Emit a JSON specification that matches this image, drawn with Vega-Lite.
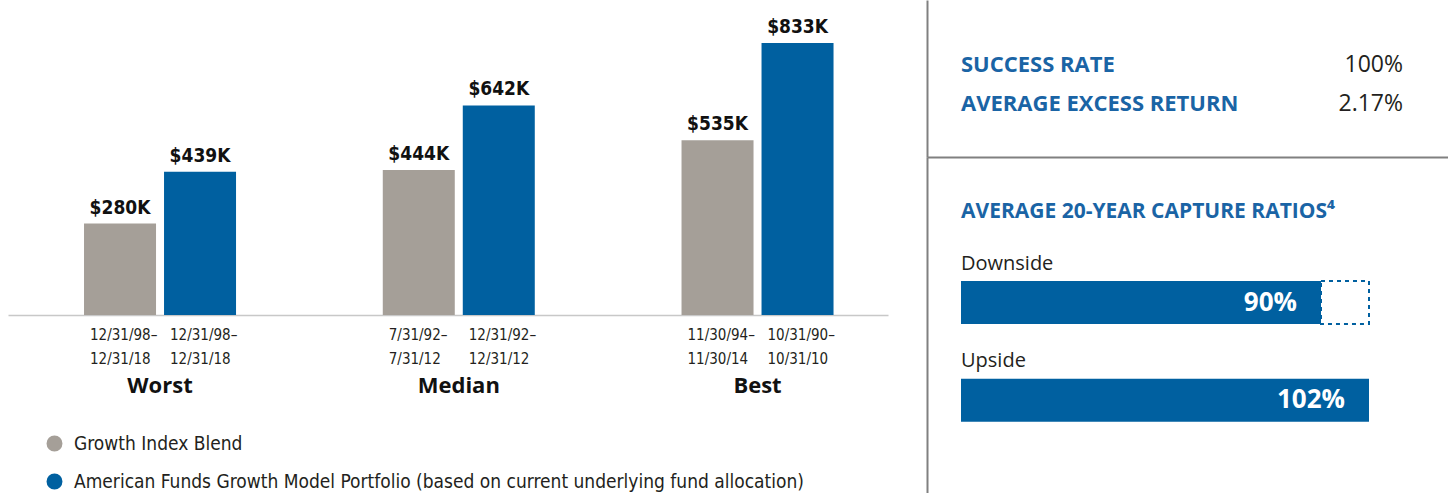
{
  "$schema": "https://vega.github.io/schema/vega-lite/v6.json",
  "background": "white",
  "padding": {"left": 8, "top": 0, "right": 0, "bottom": 0},
  "bounds": "flush",
  "spacing": 39,
  "config": {"view": {"stroke": null}},
  "hconcat": [
    {
      "width": 880,
      "height": 315,
      "data": {"values": [
        {"case": "Worst", "series": "Growth Index Blend", "value": 280, "label": "$280K", "period": "12/31/98–\n12/31/18"},
        {"case": "Worst", "series": "American Funds Growth Model Portfolio (based on current underlying fund allocation)", "value": 439, "label": "$439K", "period": "12/31/98–\n12/31/18"},
        {"case": "Median", "series": "Growth Index Blend", "value": 444, "label": "$444K", "period": "7/31/92–\n7/31/12"},
        {"case": "Median", "series": "American Funds Growth Model Portfolio (based on current underlying fund allocation)", "value": 642, "label": "$642K", "period": "12/31/92–\n12/31/12"},
        {"case": "Best", "series": "Growth Index Blend", "value": 535, "label": "$535K", "period": "11/30/94–\n11/30/14"},
        {"case": "Best", "series": "American Funds Growth Model Portfolio (based on current underlying fund allocation)", "value": 833, "label": "$833K", "period": "10/31/90–\n10/31/10"}
      ]},
      "encoding": {
        "x": {"field": "case", "type": "nominal", "sort": ["Worst", "Median", "Best"],
          "scale": {"paddingInner": 0.4644, "paddingOuter": 0.205, "align": 0.588},
          "axis": {"title": null, "domain": true, "domainColor": "#c8c8c8", "domainWidth": 1.5, "ticks": false, "labelAngle": 0, "labelPadding": 60, "labelFont": "Open Sans", "labelFontSize": 22, "labelFontWeight": "bold", "labelColor": "#111111"}},
        "xOffset": {"field": "series", "type": "nominal", "sort": ["Growth Index Blend", "American Funds Growth Model Portfolio (based on current underlying fund allocation)"],
          "scale": {"paddingInner": 0.1, "paddingOuter": 0.05}},
        "y": {"field": "value", "type": "quantitative", "scale": {"domain": [0, 965], "nice": false}, "axis": null}
      },
      "layer": [
        {
          "mark": {"type": "bar"},
          "encoding": {
            "color": {"field": "series", "type": "nominal",
              "scale": {"domain": ["Growth Index Blend", "American Funds Growth Model Portfolio (based on current underlying fund allocation)"], "range": ["#a59f98", "#0060a0"]},
              "legend": {"title": null, "orient": "none", "legendX": 37, "legendY": 434, "direction": "vertical", "symbolType": "circle", "symbolSize": 254, "symbolStrokeWidth": 0, "labelFont": "DejaVu Sans Condensed, sans-serif", "labelFontSize": 19, "labelColor": "#231f20", "labelOffset": 10, "labelLimit": 1000, "rowPadding": 18, "padding": 0}}
          }
        },
        {
          "mark": {"type": "text", "baseline": "alphabetic", "dy": -10, "font": "DejaVu Sans Condensed, sans-serif", "fontWeight": "bold", "fontSize": 19, "color": "#111111"},
          "encoding": {"text": {"field": "label"}}
        },
        {
          "mark": {"type": "text", "baseline": "top", "align": "left", "dx": -30, "dy": 13, "lineBreak": "\n", "lineHeight": 24, "font": "DejaVu Sans Condensed, sans-serif", "fontSize": 15, "color": "#231f20"},
          "encoding": {"y": {"datum": 0, "type": "quantitative"}, "text": {"field": "period"}}
        }
      ]
    },
    {
      "vconcat": [
        {
          "width": 521,
          "height": 157,
          "data": {"values": [
            {"metric": "SUCCESS RATE", "value": "100%"},
            {"metric": "AVERAGE EXCESS RETURN", "value": "2.17%"}
          ]},
          "encoding": {
            "y": {"field": "metric", "type": "nominal", "sort": null,
              "scale": {"type": "band", "paddingInner": 0, "paddingOuter": 1},
              "axis": {"labels": false, "ticks": false, "title": null, "grid": false, "domainColor": "#808080", "domainWidth": 2}}
          },
          "layer": [
            {
              "mark": {"type": "text", "align": "left", "baseline": "middle", "dy": 6, "font": "Open Sans", "fontWeight": "bold", "fontSize": 22, "color": "#1a64a5"},
              "encoding": {
                "x": {"datum": 0, "type": "quantitative", "scale": {"domain": [-8.5, 121.75], "nice": false, "zero": false},
                  "axis": {"labels": false, "ticks": false, "title": null, "grid": false, "domainColor": "#808080", "domainWidth": 2}},
                "text": {"field": "metric"}
              }
            },
            {
              "mark": {"type": "text", "align": "right", "baseline": "middle", "dy": 6, "font": "Open Sans", "fontSize": 23, "color": "#231f20"},
              "encoding": {
                "x": {"datum": 110.5, "type": "quantitative", "scale": {"domain": [-8.5, 121.75], "nice": false, "zero": false}},
                "text": {"field": "value"}
              }
            }
          ]
        },
        {
          "width": 521,
          "height": 336,
          "data": {"values": [
            {"metric": "Downside", "value": 90, "label": "90%", "benchmark": 102},
            {"metric": "Upside", "value": 102, "label": "102%", "benchmark": 102}
          ]},
          "encoding": {
            "y": {"field": "metric", "type": "nominal", "sort": null,
              "scale": {"paddingInner": 0.56, "paddingOuter": 1, "align": 0.635},
              "axis": {"labels": false, "ticks": false, "title": null, "grid": false, "domainColor": "#808080", "domainWidth": 2}}
          },
          "layer": [
            {
              "transform": [{"filter": "datum.value < datum.benchmark"}],
              "mark": {"type": "bar", "fill": "white", "stroke": "#0060a0", "strokeWidth": 2, "strokeDash": [4, 4]},
              "encoding": {
                "x": {"field": "value", "type": "quantitative", "scale": {"domain": [-8.5, 121.75], "nice": false, "zero": false}, "axis": null},
                "x2": {"field": "benchmark"}
              }
            },
            {
              "mark": {"type": "bar", "color": "#0060a0"},
              "encoding": {
                "x": {"field": "value", "type": "quantitative", "scale": {"domain": [-8.5, 121.75], "nice": false, "zero": false}, "axis": null},
                "x2": {"datum": 0}
              }
            },
            {
              "mark": {"type": "text", "align": "right", "baseline": "middle", "dx": -24, "color": "white", "font": "Open Sans", "fontWeight": "bold", "fontSize": 26},
              "encoding": {
                "x": {"field": "value", "type": "quantitative", "scale": {"domain": [-8.5, 121.75], "nice": false, "zero": false}, "axis": null},
                "text": {"field": "label"}
              }
            },
            {
              "mark": {"type": "text", "align": "left", "baseline": "alphabetic", "dy": -33, "font": "Open Sans", "fontSize": 20, "color": "#231f20"},
              "encoding": {
                "x": {"datum": 0, "type": "quantitative", "scale": {"domain": [-8.5, 121.75], "nice": false, "zero": false}, "axis": null},
                "text": {"field": "metric"}
              }
            },
            {
              "data": {"values": [{"t": "AVERAGE 20-YEAR CAPTURE RATIOS⁴"}]},
              "mark": {"type": "text", "align": "left", "baseline": "middle", "dy": -91, "font": "Open Sans", "fontWeight": "bold", "fontSize": 21, "color": "#1a64a5"},
              "encoding": {
                "x": {"datum": 0, "type": "quantitative", "scale": {"domain": [-8.5, 121.75], "nice": false, "zero": false}, "axis": null},
                "y": {"datum": "Downside", "type": "nominal"},
                "text": {"field": "t"}
              }
            }
          ]
        }
      ],
      "spacing": 0,
      "bounds": "flush"
    }
  ]
}
